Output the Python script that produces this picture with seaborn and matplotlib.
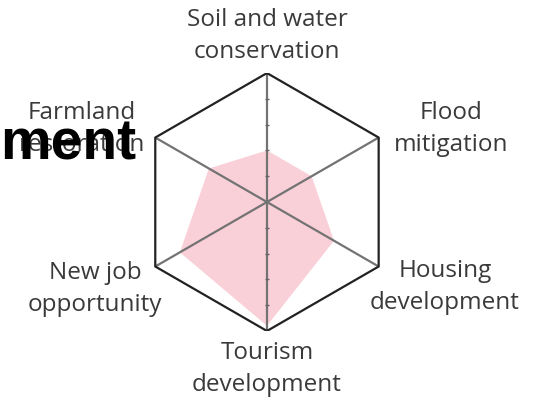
import numpy as np
import pandas as pd
import matplotlib
matplotlib.use("Agg")
import matplotlib.pyplot as plt
import seaborn as sns

# Data (scale 0-5)
categories = ["Soil and water\nconservation", "Flood\nmitigation", "Housing\ndevelopment",
              "Tourism\ndevelopment", "New job\nopportunity", "Farmland\nrestoration"]
scores = [2.0, 2.0, 3.0, 4.8, 3.9, 2.6]
scale_max = 5
levels = [1, 2, 3, 4]

sns.set_style("white")
plt.rcParams['font.family'] = ['Open Sans', 'DejaVu Sans']

fig = plt.figure(figsize=(5.5, 4.03), dpi=100)
ax = fig.add_axes([0.2509, 0.1787, 0.469, 0.640])

# radar geometry: clockwise from the top
n = len(categories)
angles = np.linspace(0, 2 * np.pi, n, endpoint=False)
ux, uy = np.sin(angles), np.cos(angles)


def to_xy(r):
    r = np.asarray(r, dtype=float)
    return np.append(r * ux, r[0] * ux[0]), np.append(r * uy, r[0] * uy[0])


# filled area
sx, sy = to_xy(scores)
ax.fill(sx, sy, color='#f9d0d8', lw=0, zorder=1)

# spokes
for i in range(n):
    ax.plot([0, scale_max * ux[i]], [0, scale_max * uy[i]], color='#737373', lw=1.6,
            solid_capstyle='butt', zorder=2)
# small marks along vertical spoke
for sign in [1, -1]:
    ax.plot([0] * len(levels), [sign * l for l in levels], ls='', marker='_', ms=3.5,
            mew=1, color='#666666', zorder=3)

# outer hexagon
hx, hy = to_xy([scale_max] * n)
frame = pd.DataFrame({'x': hx, 'y': hy})
sns.lineplot(data=frame, x='x', y='y', sort=False, estimator=None,
             color='#222222', lw=1.6, ax=ax, zorder=4)

ax.set_xlim(-scale_max, scale_max)
ax.set_ylim(-scale_max, scale_max)
ax.axis('off')

# category labels
label_pos = [(267, 36), (451, 129), (445, 287), (267, 369), (95, 289), (82, 129)]
for lab, (px, py) in zip(categories, label_pos):
    fig.text(px / 550, 1 - py / 403, lab, ha='center', va='center', fontsize=17.5,
             color='#3a3a3a', linespacing=1.42)

# clipped title fragment
fig.text(136 / 550, 1 - 160 / 403, "ment", ha='right', va='baseline', fontsize=41,
         fontweight='bold', family='Liberation Sans', color='black')

fig.savefig("out.png", dpi=100)
